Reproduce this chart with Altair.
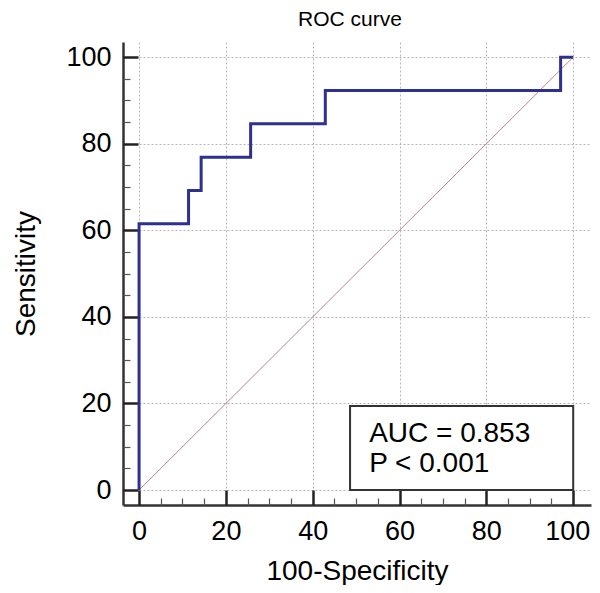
import altair as alt
import pandas as pd

# ROC step curve (100-Specificity, Sensitivity)
fpr = [0, 0, 11.4, 11.4, 14.3, 14.3, 25.7, 25.7, 42.9, 42.9, 97.1, 97.1, 100]
tpr = [0, 61.5, 61.5, 69.2, 69.2, 76.9, 76.9, 84.6, 84.6, 92.3, 92.3, 100, 100]
diag_x = [0, 100]
diag_y = [0, 100]

major_ticks = [0, 20, 40, 60, 80, 100]
minor_ticks = [v for v in range(5, 100, 5) if v % 20 != 0]

box_lines = ["AUC = 0.853", "P < 0.001"]
box_x0, box_x1, box_y0, box_y1 = 48.6, 100, 0, 19.4
text_x = 53
text_y = [11.1, 4.2]

FONT = "Liberation Sans"
xdom = [-3.7, 104.1]
ydom = [-3.46, 103.5]

curve_df = pd.DataFrame({"x": fpr, "y": tpr, "o": list(range(len(fpr)))})
diag_df = pd.DataFrame({"x": diag_x, "y": diag_y})
box_df = pd.DataFrame({"x": [box_x0], "x2": [box_x1], "y": [box_y0], "y2": [box_y1]})
text_df = pd.DataFrame({"t": box_lines, "x": [text_x] * 2, "y": text_y})

xs = alt.Scale(domain=xdom, nice=False, zero=False)
ys = alt.Scale(domain=ydom, nice=False, zero=False)

main_x_axis = alt.Axis(values=major_ticks, orient="bottom", title="100-Specificity",
                       grid=True, gridColor="#b5b5b5", gridDash=[2, 2], gridWidth=1,
                       domainColor="#333333", domainWidth=2.5, ticks=False, tickSize=0,
                       labelPadding=13, labelFontSize=27, labelFont=FONT, labelColor="black",
                       labelOffset={"expr": "datum.value == 100 ? -6 : 0"},
                       titleFontSize=28, titleFont=FONT, titleFontWeight="normal",
                       titleColor="black", titlePadding=13)
main_y_axis = alt.Axis(values=major_ticks, orient="left", title="Sensitivity",
                       grid=True, gridColor="#b5b5b5", gridDash=[2, 2], gridWidth=1,
                       domainColor="#333333", domainWidth=2.5, ticks=False, tickSize=0,
                       labelPadding=12, labelFontSize=27, labelFont=FONT, labelColor="black",
                       titleFontSize=28, titleFont=FONT, titleFontWeight="normal",
                       titleColor="black", titlePadding=25)

def tick_axis(orient, values, size, width, color):
    return alt.Axis(values=values, orient=orient, title=None, labels=False, domain=False,
                    grid=False, ticks=True, tickSize=size, tickWidth=width,
                    tickColor=color, offset=-size)

diag = alt.Chart(diag_df).mark_line(color="#c47f8c", strokeWidth=1).encode(
    x=alt.X("x:Q", scale=xs, axis=main_x_axis),
    y=alt.Y("y:Q", scale=ys, axis=main_y_axis),
)

curve = alt.Chart(curve_df).mark_line(color="#2e3192", strokeWidth=3).encode(
    x=alt.X("x:Q", scale=xs, axis=tick_axis("bottom", major_ticks, 15, 2.5, "#222222")),
    y=alt.Y("y:Q", scale=ys, axis=tick_axis("left", major_ticks, 15, 2.5, "#222222")),
    order="o:Q",
)

box = alt.Chart(box_df).mark_rect(fill="white", stroke="#333333", strokeWidth=2).encode(
    x=alt.X("x:Q", scale=xs, axis=tick_axis("bottom", minor_ticks, 7, 1.2, "#555555")),
    x2="x2:Q",
    y=alt.Y("y:Q", scale=ys, axis=tick_axis("left", minor_ticks, 7, 1.2, "#555555")),
    y2="y2:Q",
)

text = alt.Chart(text_df).mark_text(align="left", baseline="alphabetic", font=FONT,
                                    fontSize=28, color="black").encode(
    x=alt.X("x:Q", scale=xs, axis=None),
    y=alt.Y("y:Q", scale=ys, axis=None),
    text="t:N",
)

chart = alt.layer(diag, box, curve, text).resolve_axis(
    x="independent", y="independent"
).properties(
    width=468, height=463,
    title=alt.TitleParams("ROC curve", font=FONT, fontSize=21, fontWeight="normal",
                          color="black", anchor="middle", dx=-7, offset=12),
    autosize=alt.AutoSizeParams(type="none"),
    padding={"left": 115, "top": 34, "right": 1, "bottom": 80},
).configure_view(stroke=None)

chart.save("out.html", embed_options={"renderer": "svg", "actions": False})
